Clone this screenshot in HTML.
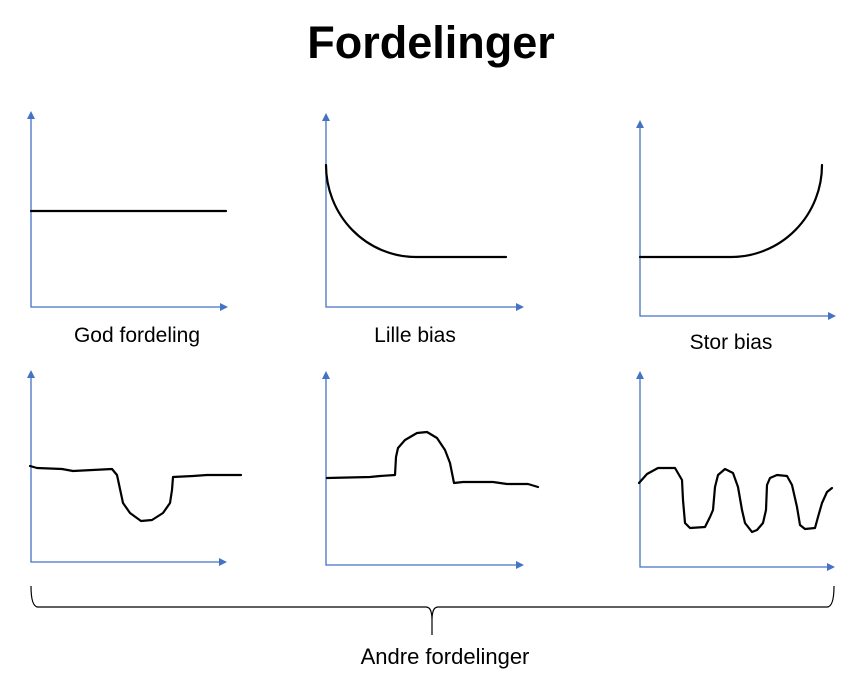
<!DOCTYPE html>
<html><head><meta charset="utf-8"><style>
body{margin:0;background:#fff;width:862px;height:692px;overflow:hidden}
svg{display:block}
text{font-family:"Liberation Sans",sans-serif;fill:#000}
</style></head><body>
<svg width="862" height="692" viewBox="0 0 862 692">
<defs><marker id="ar" markerWidth="8" markerHeight="8" refX="6" refY="4" orient="auto-start-reverse" markerUnits="userSpaceOnUse"><path d="M0,0 L8,4 L0,8 z" fill="#4472c4"/></marker></defs>
<text x="431" y="58" text-anchor="middle" font-size="45" font-weight="bold">Fordelinger</text>
<g id="axes"></g>
<g id="curves" fill="none" stroke="#000" stroke-width="2.2" stroke-linejoin="round" stroke-linecap="round"></g>
<text x="137" y="342" text-anchor="middle" font-size="21">God fordeling</text>
<text x="415" y="342" text-anchor="middle" font-size="21">Lille bias</text>
<text x="731" y="349" text-anchor="middle" font-size="21">Stor bias</text>
<path d="M31,586 Q31,607 38,607 L426,607 Q432,607 432,620 L432,635 M432,620 Q432,607 438,607 L827,607 Q834,607 834,586" fill="none" stroke="#000" stroke-width="1.2"/>
<text x="445" y="664" text-anchor="middle" font-size="22">Andre fordelinger</text>
</svg>
<script>
// axes: [originX, originY, topY, rightX]
const axesList=[[31,307,113,226],[326,307,115,522],[640,316,122,834],[31,562,372,225],[326,565,373,522],[640,567,373,833]];
const axisNames=['god-fordeling','lille-bias','stor-bias','andre-1','andre-2','andre-3'];
// curves as point sequences
const curve1=[[31,211],[226,211]];
const curve4=[[30,466],[37,468],[62,469],[73,471],[112,469],[117,475],[123,503],[130,513],[141,521],[152,520],[163,513],[170,503],[172,490],[173,477],[193,476],[207,475],[241,475]];
const curve5=[[327,478],[370,477],[380,476],[395,475],[396,457],[398,448],[405,440],[417,433],[427,432],[437,438],[445,450],[450,463],[454,483],[463,482],[493,482],[507,484],[528,484],[538,487]];
const curve6=[[639,483],[647,474],[658,468],[675,468],[682,480],[683,500],[685,523],[690,528],[705,527],[710,517],[713,510],[715,487],[718,475],[725,469],[733,473],[738,487],[742,510],[745,523],[752,532],[757,530],[763,523],[766,510],[767,485],[770,478],[777,475],[787,476],[792,485],[797,507],[800,525],[805,529],[815,528],[818,517],[822,503],[827,492],[832,488]];
const S="http://www.w3.org/2000/svg";
const ax=document.getElementById('axes');
axesList.forEach((a,i)=>{
 const p=document.createElementNS(S,'path');
 p.setAttribute('d',`M${a[0]},${a[2]} L${a[0]},${a[1]} L${a[3]},${a[1]}`);
 p.setAttribute('fill','none');p.setAttribute('stroke','#4472c4');p.setAttribute('stroke-width','1.3');
 p.setAttribute('marker-start','url(#ar)');p.setAttribute('marker-end','url(#ar)');
 
 
 ax.appendChild(p);
});
const cg=document.getElementById('curves');
function addPath(d,name){
 const p=document.createElementNS(S,'path');
 p.setAttribute('d',d);
 
 
 cg.appendChild(p);
}
const pl=pts=>'M'+pts.map(p=>p.join(',')).join(' L');
addPath(pl(curve1),'curve-god-fordeling');
addPath('M326,165 A90,92 0 0 0 416,257 L506,257','curve-lille-bias');
addPath('M640,257 L731,257 A91,92 0 0 0 822,165','curve-stor-bias');
addPath(pl(curve4),'curve-andre-1');
addPath(pl(curve5),'curve-andre-2');
addPath(pl(curve6),'curve-andre-3');
</script>
</body></html>
